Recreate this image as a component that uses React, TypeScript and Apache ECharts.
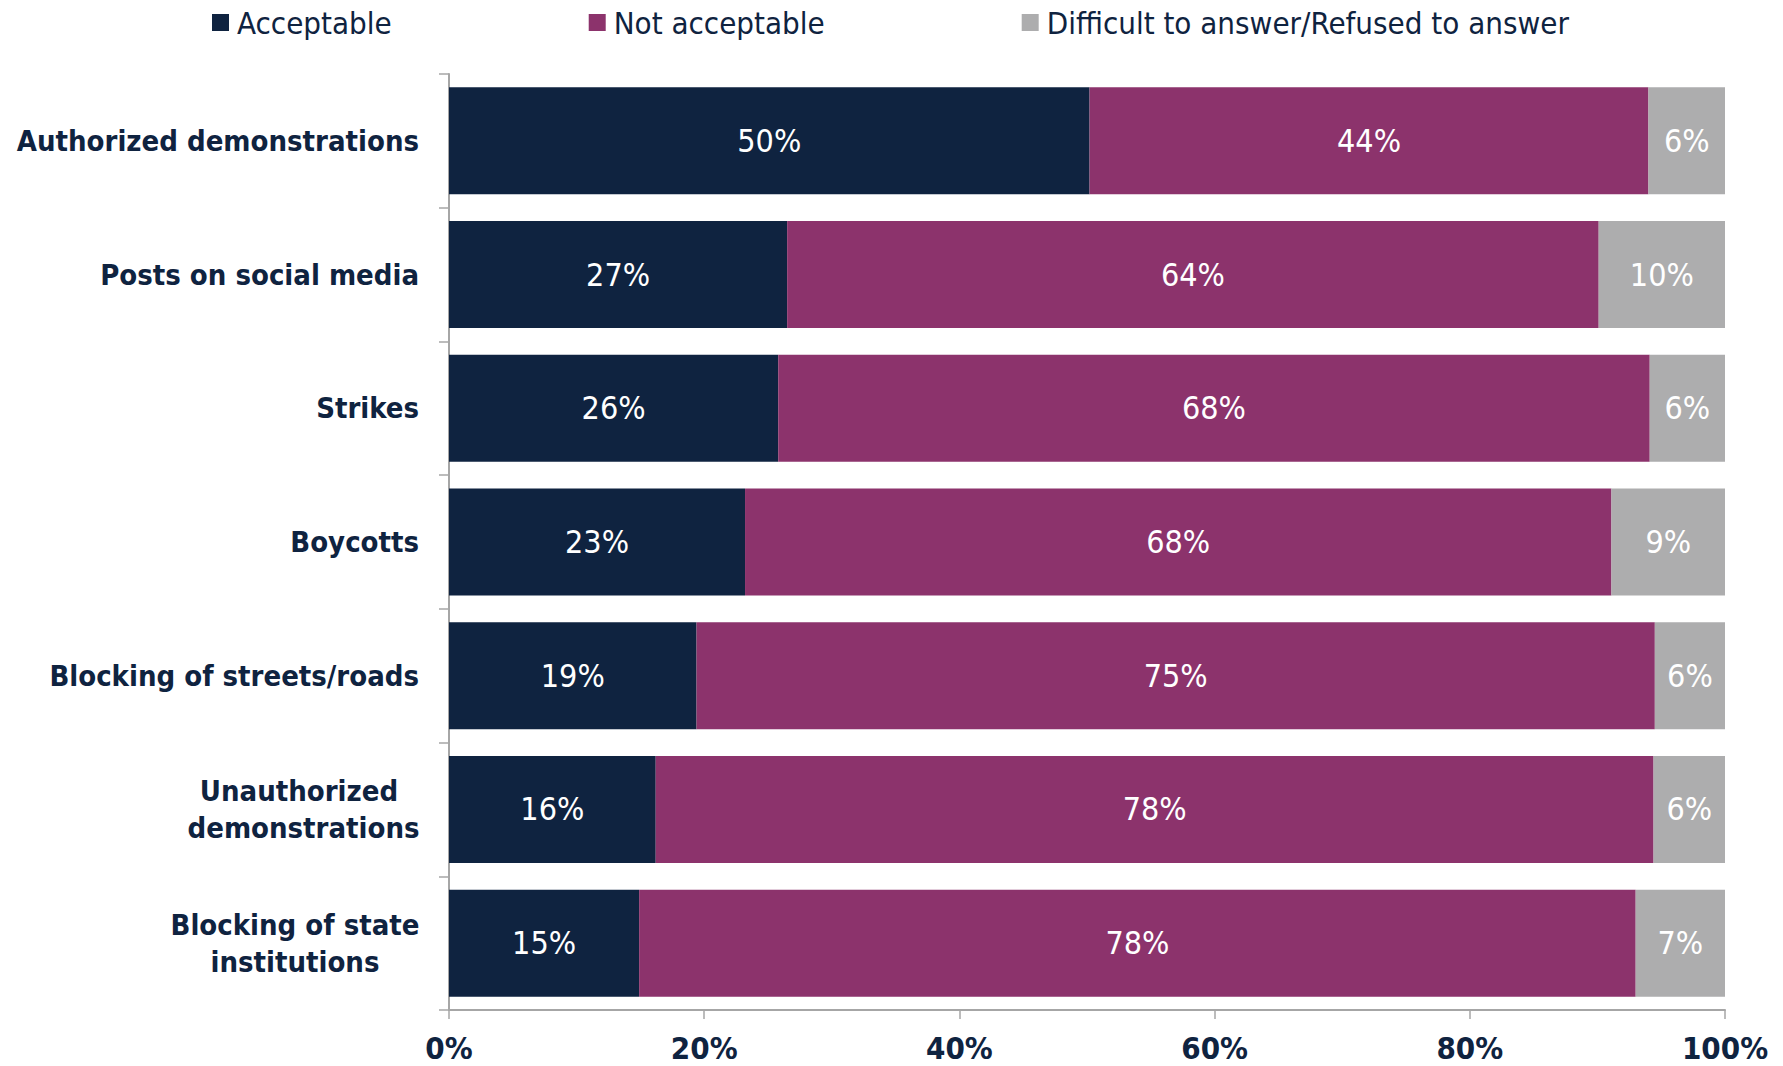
import React, { useEffect, useRef } from "react";
import * as echarts from "echarts";

const categories = [
  "Authorized demonstrations",
  "Posts on social media",
  "Strikes",
  "Boycotts",
  "Blocking of streets/roads",
  "Unauthorized \ndemonstrations",
  "Blocking of state\ninstitutions",
];
const acceptable = [50.2, 26.5, 25.8, 23.2, 19.4, 16.2, 14.9];
const notAcceptable = [43.8, 63.6, 68.3, 67.9, 75.1, 78.2, 78.1];
const difficult = [6.0, 9.9, 5.9, 8.9, 5.5, 5.6, 7.0];
const seriesNames = ["Acceptable", "Not acceptable", "Difficult to answer/Refused to answer"];
const xTicks = [0, 20, 40, 60, 80, 100];

const NAVY = "#0F2340";
const MAGENTA = "#8C336C";
const GRAY = "#ADADAE";
const AXIS = "#A6A6A6";
const CAT_FONT = "'DejaVu Sans Condensed', 'DejaVu Sans', sans-serif";
const NUM_FONT = "'Liberation Sans Narrow', 'DejaVu Sans Condensed', sans-serif";

const catRich = {
  color: NAVY,
  fontFamily: CAT_FONT,
  fontWeight: "bold",
  fontSize: 29,
  lineHeight: 37,
  align: "center",
};

export default function App() {
  const ref = useRef<HTMLDivElement>(null);
  useEffect(() => {
    if (!ref.current) return;
    const chart = echarts.init(ref.current, null, { renderer: "svg" });
    const mk = (name: string, data: number[], color: string) => ({
      name,
      type: "bar",
      stack: "total",
      data,
      barCategoryGap: "20%",
      itemStyle: { color },
      label: {
        show: true,
        position: "inside",
        color: "#FFFFFF",
        fontFamily: NUM_FONT,
        fontSize: 32,
        formatter: (p: any) => Math.round(p.value) + "%",
      },
    });
    chart.setOption({
      animation: false,
      backgroundColor: "#FFFFFF",
      legend: {
        left: 207,
        top: 2,
        itemWidth: 17,
        itemHeight: 17,
        itemGap: 197,
        icon: "rect",
        textStyle: {
          color: NAVY,
          fontFamily: CAT_FONT,
          fontSize: 31,
          padding: [0, 0, 0, 3],
        },
        data: seriesNames,
      },
      grid: { left: 449, right: 58, top: 74, bottom: 56, containLabel: false },
      xAxis: {
        type: "value",
        min: 0,
        max: 100,
        interval: 20,
        axisLine: { show: true, lineStyle: { color: AXIS, width: 2 } },
        axisTick: { show: true, length: 9, lineStyle: { color: AXIS, width: 1.5 } },
        splitLine: { show: false },
        axisLabel: {
          color: NAVY,
          fontFamily: NUM_FONT,
          fontWeight: "bold",
          fontSize: 31,
          margin: 22,
          formatter: (v: number) => (xTicks.includes(v) ? v + "%" : ""),
        },
      },
      yAxis: {
        type: "category",
        inverse: true,
        data: categories,
        axisLine: { show: true, lineStyle: { color: AXIS, width: 2 } },
        axisTick: { show: true, length: 10, alignWithLabel: false, lineStyle: { color: AXIS, width: 1.5 } },
        axisLabel: {
          color: NAVY,
          fontFamily: CAT_FONT,
          fontWeight: "bold",
          fontSize: 29,
          lineHeight: 37,
          margin: 30,
          align: "right",
          formatter: (v: string) => {
            if (v.indexOf("\n") < 0) return v;
            const lines = v.split("\n");
            const key = v.startsWith("Unauth") ? "a" : "b";
            return lines.map((l) => `{${key}|${l}}`).join("\n");
          },
          rich: {
            a: { ...catRich, width: 231 },
            b: { ...catRich, width: 248 },
          },
        },
      },
      series: [
        mk(seriesNames[0], acceptable, NAVY),
        mk(seriesNames[1], notAcceptable, MAGENTA),
        mk(seriesNames[2], difficult, GRAY),
      ],
    });
    return () => chart.dispose();
  }, []);
  return (
    <div
      ref={ref}
      style={{ position: "absolute", left: 0, top: 0, width: 1783, height: 1066 }}
    />
  );
}
